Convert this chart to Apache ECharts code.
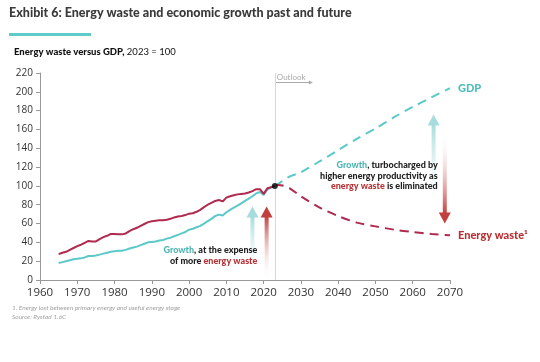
<!DOCTYPE html>
<html><head><meta charset="utf-8">
<script src="https://cdn.jsdelivr.net/npm/echarts@6/dist/echarts.min.js"></script>
<style>html,body{margin:0;padding:0;background:#fff}#c{width:540px;height:362px}</style>
</head><body><div id="c"></div>
<script>
const histYears = [1965,1966,1967,1968,1969,1970,1971,1972,1973,1974,1975,1976,1977,1978,1979,1980,1981,1982,1983,1984,1985,1986,1987,1988,1989,1990,1991,1992,1993,1994,1995,1996,1997,1998,1999,2000,2001,2002,2003,2004,2005,2006,2007,2008,2009,2010,2011,2012,2013,2014,2015,2016,2017,2018,2019,2020,2021,2022,2023];
const gdpHist = [18,19,20,21,22,22.5,23,24,25.5,25.5,26,27,28,29,30,30.5,31,31,32,33.5,34.5,35.5,37,38.5,40,40.5,41,42,42.5,44,45,46.5,48,49.5,51,53.5,54.5,56,57.5,60,62.5,65,68,69.5,68.5,72,74.5,77,79,81.5,84,86.5,89,92,93.5,90.5,96,98.5,100];
const wasteHist = [27.5,29,30,32,34,36,37.5,39.5,41.5,41,41,43.5,45.5,47,49,49,48.5,48.5,49.5,52,54,55.5,57.5,59.5,61.5,62.5,63,63.5,63.5,64,65,66.5,67.5,68,69,70.5,71,72.5,74.5,77.5,80,82,84,85,83.5,87.5,89,90,91,91.5,92,93,94.5,96.5,96.5,91.5,97.5,98.5,100];
const fcYears = [2023,2024,2025,2027,2030,2035,2040,2045,2050,2055,2060,2065,2070];
const gdpFc = [100,102.5,105,110,114.5,126,138,150,161,173,184,194,204];
const wasteFc = [100,101,100.5,97.5,89,77,68,61,57,53.5,51,49,47.5];
const xTicks = {min:1960, max:2070, step:10};
const yTicks = {min:0, max:220, step:20};

const TEAL='#5cc9c9', RED='#b0294f';
const F='Lato';
const zip=(a,b)=>a.map((v,i)=>[v,b[i]]);
const chart = echarts.init(document.getElementById('c'));
chart.setOption({
  animation:false,
  grid:{left:40,right:90,top:73,bottom:82},
  xAxis:{type:'value',min:xTicks.min,max:xTicks.max,interval:xTicks.step,
    axisLine:{lineStyle:{color:'#999'}},axisTick:{show:true,length:4,lineStyle:{color:'#999'}},
    splitLine:{show:false},axisLabel:{color:'#333',fontSize:11.5,margin:7,fontFamily:'Open Sans',formatter:v=>String(v)}},
  yAxis:{type:'value',min:yTicks.min,max:yTicks.max,interval:yTicks.step,
    axisLine:{show:true,lineStyle:{color:'#999'}},axisTick:{show:true,length:4,lineStyle:{color:'#999'}},
    splitLine:{show:false},axisLabel:{color:'#333',fontSize:10,margin:7,fontFamily:'Open Sans'}},
  series:[
    {type:'line',data:zip(histYears,gdpHist),showSymbol:false,lineStyle:{color:TEAL,width:2},z:3,
     markLine:{silent:true,symbol:'none',label:{show:false},lineStyle:{color:'#d8d8d8',width:1,type:'solid'},data:[{xAxis:2023}]}},
    {type:'line',data:zip(histYears,wasteHist),showSymbol:false,lineStyle:{color:RED,width:2},z:3},
    {type:'line',data:zip(fcYears,gdpFc),showSymbol:false,smooth:0.3,lineStyle:{color:TEAL,width:2,type:[9,6]},z:3},
    {type:'line',data:zip(fcYears,wasteFc),showSymbol:false,smooth:0.3,lineStyle:{color:RED,width:2,type:[9,6]},z:3},
    {type:'scatter',data:[[2023,100]],symbolSize:6,itemStyle:{color:'#000'},z:5}
  ]
});

const P=(x,y)=>chart.convertToPixel({gridIndex:0},[x,y]);
function arrow(x,yTip,yTail,color,up){
  const a=P(x,yTip), b=P(x,yTail);
  const hx=a[0], ty=a[1], by=b[1];
  const headH=11, headW=6;
  const els=[];
  if(up){
    els.push({type:'rect',shape:{x:hx-2,y:ty+headH-1,width:4,height:by-ty-headH+1},
      style:{fill:new echarts.graphic.LinearGradient(0,0,0,1,[{offset:0,color:color},{offset:1,color:'rgba(255,255,255,0)'}])},z:2});
    els.push({type:'polygon',shape:{points:[[hx,ty],[hx-headW,ty+headH],[hx+headW,ty+headH]]},style:{fill:color},z:2});
  } else {
    els.push({type:'rect',shape:{x:hx-2,y:by,width:4,height:ty-by-headH+1},
      style:{fill:new echarts.graphic.LinearGradient(0,0,0,1,[{offset:0,color:'rgba(255,255,255,0)'},{offset:1,color:color}])},z:2});
    els.push({type:'polygon',shape:{points:[[hx,ty],[hx-headW,ty-headH],[hx+headW,ty-headH]]},style:{fill:color},z:2});
  }
  return els;
}
const LT='#a6dcdc', LR='#c2403c';
const o=P(2023,220);
const g1=P(2018.3,26), g2=P(2066.7,110.5), gdpL=P(2070,204), wL=P(2070,47.5);
const W=900;
const rich={t:{fill:'#4db6b2',fontWeight:W,fontSize:9,fontFamily:F},
            r:{fill:'#b83034',fontWeight:W,fontSize:9,fontFamily:F},
            k:{fill:'#222',fontWeight:W,fontSize:9,fontFamily:F}};
chart.setOption({graphic:[
  {type:'text',left:9,top:6,style:{text:'Exhibit 6: Energy waste and economic growth past and future',fill:'#3a3a3a',font:'900 12.5px Lato'}},
  {type:'rect',shape:{x:9,y:33,width:82,height:3},style:{fill:'#5fcaca'}},
  {type:'text',left:14,top:47,style:{rich:{b:{fontWeight:W,fontSize:9.5,fill:'#111',fontFamily:F},n:{fontSize:9.5,fill:'#111',fontFamily:F}},text:'{b|Energy waste versus GDP,}{n| 2023 = 100}'}},
  {type:'text',x:o[0]+2,y:o[1]+4.5,style:{text:'Outlook',fill:'#aaa',fontSize:8,fontFamily:F,verticalAlign:'middle'}},
  {type:'line',shape:{x1:o[0],y1:o[1]+9.5,x2:o[0]+36,y2:o[1]+9.5},style:{stroke:'#aaa',lineWidth:1}},
  {type:'polygon',shape:{points:[[o[0]+38,o[1]+9.5],[o[0]+34,o[1]+7.5],[o[0]+34,o[1]+11.5]]},style:{fill:'#aaa'}},
  ...arrow(2017,78,0,LT,true),
  ...arrow(2020.8,78,0,LR,true),
  ...arrow(2065.6,176,74,LT,true),
  ...arrow(2068.6,60,157,LR,false),
  {type:'text',x:g1[0],y:g1[1],style:{align:'right',verticalAlign:'middle',lineHeight:10.5,rich:rich,
    text:'{t|Growth}{k|, at the expense}\n{k|of more }{r|energy waste}'},z:6},
  {type:'text',x:g2[0],y:g2[1],style:{align:'right',verticalAlign:'middle',lineHeight:10.5,rich:rich,
    text:'{t|Growth}{k|, turbocharged by}\n{k|higher energy productivity as}\n{r|energy waste}{k| is eliminated}'},z:6},
  {type:'text',x:gdpL[0]+8,y:gdpL[1],style:{text:'GDP',fill:'#4fbcbc',font:'900 11px Lato',verticalAlign:'middle'}},
  {type:'text',x:wL[0]+8,y:wL[1],style:{text:'Energy waste¹',fill:'#b83034',font:'900 11px Lato',verticalAlign:'middle'}},
  {type:'text',left:12,top:304,style:{text:'1. Energy lost between primary energy and useful energy stage',fill:'#a0a0a0',font:'italic 6.5px Lato'}},
  {type:'text',left:12,top:313,style:{text:'Source: Rystad 1.6C',fill:'#a0a0a0',font:'italic 6.5px Lato'}}
]});
</script></body></html>
